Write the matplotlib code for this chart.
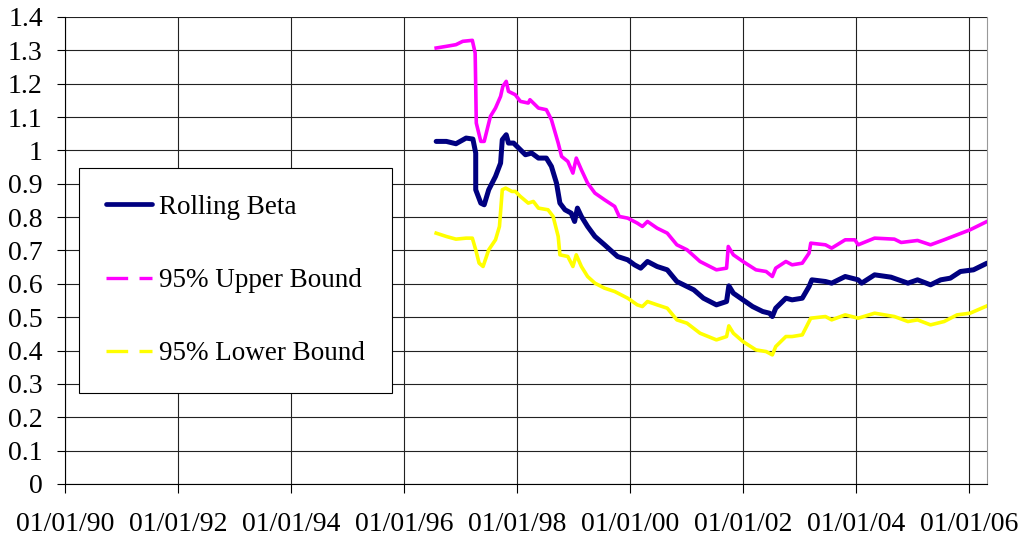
import numpy as np
import pandas as pd
import matplotlib
matplotlib.use('Agg')
import matplotlib.pyplot as plt
import matplotlib.dates as mdates
from matplotlib.lines import Line2D

# values (x in decimal years)
beta_t = [1996.57, 1996.75, 1996.92, 1997.10, 1997.22, 1997.27, 1997.27, 1997.36, 1997.42,
          1997.50, 1997.62, 1997.71, 1997.74, 1997.81, 1997.85, 1997.94, 1998.03, 1998.15,
          1998.26, 1998.38, 1998.52, 1998.61, 1998.70, 1998.76, 1998.85, 1998.96, 1999.02,
          1999.07, 1999.14, 1999.25, 1999.38, 1999.55, 1999.78, 1999.96, 2000.08, 2000.19,
          2000.31, 2000.48, 2000.66, 2000.83, 2000.95, 2001.13, 2001.30, 2001.53, 2001.71,
          2001.75, 2001.83, 2002.00, 2002.17, 2002.35, 2002.47, 2002.52, 2002.58, 2002.76,
          2002.87, 2003.05, 2003.17, 2003.22, 2003.46, 2003.57, 2003.81, 2004.04, 2004.10,
          2004.33, 2004.62, 2004.92, 2005.09, 2005.32, 2005.50, 2005.67, 2005.85, 2006.08,
          2006.32]
beta = [1.027, 1.027, 1.020, 1.037, 1.034, 0.992, 0.882, 0.842, 0.837,
        0.882, 0.922, 0.962, 1.032, 1.047, 1.022, 1.022, 1.007, 0.987,
        0.992, 0.977, 0.977, 0.952, 0.902, 0.842, 0.822, 0.812, 0.787,
        0.827, 0.802, 0.772, 0.742, 0.717, 0.682, 0.672, 0.657, 0.647,
        0.667, 0.652, 0.642, 0.607, 0.597, 0.582, 0.557, 0.537, 0.547,
        0.594, 0.572, 0.552, 0.532, 0.517, 0.512, 0.502, 0.527, 0.557,
        0.552, 0.557, 0.592, 0.612, 0.607, 0.602, 0.622, 0.612, 0.602,
        0.627, 0.620, 0.602, 0.612, 0.597, 0.612, 0.617, 0.637, 0.642,
        0.662]

upper_t = [1996.57, 1996.75, 1996.92, 1997.04, 1997.21, 1997.26, 1997.27, 1997.28, 1997.36,
           1997.42, 1997.53, 1997.62, 1997.71, 1997.75, 1997.81, 1997.85, 1997.97, 1998.06,
           1998.20, 1998.23, 1998.38, 1998.52, 1998.61, 1998.73, 1998.79, 1998.90, 1998.99,
           1999.05, 1999.14, 1999.25, 1999.38, 1999.55, 1999.73, 1999.81, 1999.96, 2000.13,
           2000.22, 2000.31, 2000.48, 2000.66, 2000.83, 2001.01, 2001.24, 2001.53, 2001.71,
           2001.74, 2001.83, 2002.00, 2002.23, 2002.41, 2002.52, 2002.58, 2002.76, 2002.87,
           2003.05, 2003.17, 2003.20, 2003.46, 2003.57, 2003.81, 2003.98, 2004.04, 2004.33,
           2004.68, 2004.80, 2005.09, 2005.32, 2005.56, 2005.79, 2006.02, 2006.32]
upper = [1.307, 1.312, 1.317, 1.327, 1.330, 1.292, 1.192, 1.082, 1.027,
         1.027, 1.102, 1.127, 1.162, 1.192, 1.207, 1.177, 1.167, 1.147,
         1.142, 1.152, 1.127, 1.122, 1.092, 1.022, 0.982, 0.967, 0.932,
         0.977, 0.942, 0.902, 0.872, 0.852, 0.832, 0.802, 0.797, 0.782,
         0.772, 0.787, 0.767, 0.752, 0.717, 0.702, 0.667, 0.642, 0.647,
         0.712, 0.687, 0.667, 0.642, 0.637, 0.622, 0.647, 0.667, 0.657,
         0.662, 0.692, 0.722, 0.717, 0.707, 0.732, 0.732, 0.717, 0.737,
         0.734, 0.724, 0.730, 0.717, 0.732, 0.747, 0.762, 0.787]

lower_t = [1996.57, 1996.75, 1996.92, 1997.10, 1997.21, 1997.27, 1997.33, 1997.40, 1997.50,
           1997.62, 1997.69, 1997.74, 1997.80, 1997.91, 1997.97, 1998.06, 1998.20, 1998.29,
           1998.38, 1998.55, 1998.64, 1998.73, 1998.76, 1998.90, 1998.99, 1999.05, 1999.14,
           1999.25, 1999.38, 1999.55, 1999.73, 1999.96, 2000.13, 2000.22, 2000.31, 2000.48,
           2000.66, 2000.83, 2001.01, 2001.24, 2001.53, 2001.71, 2001.75, 2001.83, 2002.00,
           2002.23, 2002.41, 2002.52, 2002.58, 2002.76, 2002.87, 2003.05, 2003.20, 2003.46,
           2003.57, 2003.81, 2004.04, 2004.33, 2004.68, 2004.92, 2005.09, 2005.32, 2005.56,
           2005.79, 2006.02, 2006.32]
lower = [0.752, 0.742, 0.734, 0.737, 0.737, 0.702, 0.662, 0.652, 0.702,
         0.732, 0.772, 0.882, 0.887, 0.877, 0.877, 0.862, 0.842, 0.847,
         0.827, 0.822, 0.802, 0.742, 0.687, 0.682, 0.652, 0.687, 0.652,
         0.622, 0.602, 0.587, 0.577, 0.557, 0.537, 0.532, 0.547, 0.537,
         0.527, 0.492, 0.482, 0.452, 0.432, 0.442, 0.474, 0.452, 0.427,
         0.402, 0.397, 0.387, 0.412, 0.442, 0.442, 0.447, 0.497, 0.502,
         0.492, 0.507, 0.497, 0.512, 0.502, 0.487, 0.492, 0.477, 0.487,
         0.507, 0.512, 0.534]

labels = ['Rolling Beta', '95% Upper Bound', '95% Lower Bound']


def to_dates(yrs):
    yrs = np.asarray(yrs, dtype=float)
    return pd.Timestamp('1990-01-01') + pd.to_timedelta((yrs - 1990) * 365.25, unit='D')


plt.rcParams['font.family'] = ['Liberation Serif', 'DejaVu Serif']
plt.rcParams['font.size'] = 20

fig = plt.figure(figsize=(10.33, 5.41), dpi=100)
ax = fig.add_axes([0.0629, 0.1054, 0.8926, 0.8632])

ax.plot(to_dates(beta_t), beta, color='#000080', lw=3.6, solid_joinstyle='round',
        solid_capstyle='round', zorder=3)
ax.plot(to_dates(upper_t), upper, color='#FF00FF', lw=2.6, solid_joinstyle='round', zorder=3)
ax.plot(to_dates(lower_t), lower, color='#FFFF00', lw=2.6, solid_joinstyle='round', zorder=3)

ax.set_xlim(pd.Timestamp('1990-01-01'), to_dates([2006.32])[0])
ax.set_ylim(0, 1.4)
ax.set_yticks(np.arange(0, 1.41, 0.1))
ax.set_yticklabels(['0'] + ['%g' % round(v, 1) for v in np.arange(0.1, 1.41, 0.1)])
ax.set_xticks([pd.Timestamp('%d-01-01' % y) for y in range(1990, 2007, 2)])
ax.xaxis.set_major_formatter(mdates.DateFormatter('%m/%d/%y'))

ax.grid(True, color='#222222', lw=0.8)
ax.set_axisbelow(True)
ax.tick_params(axis='x', direction='out', length=6.5, width=0.8, pad=14)
ax.tick_params(axis='y', direction='out', length=6, width=0.8, pad=10)
ax.spines['left'].set_color('black')
ax.spines['bottom'].set_color('black')
ax.spines['right'].set_color('#999999')
ax.spines['top'].set_visible(False)
for s in ax.spines.values():
    s.set_linewidth(0.8)

handles = [
    Line2D([], [], color='#000080', lw=3.4, solid_capstyle='round'),
    Line2D([], [], color='#FF00FF', lw=2.4, dashes=(6.5, 3.4)),
    Line2D([], [], color='#FFFF00', lw=2.4, dashes=(6.5, 3.4)),
]
leg = ax.legend(handles, labels, loc='upper left', bbox_to_anchor=(0.0152, 0.677),
                borderaxespad=0, frameon=True, fancybox=False, framealpha=1,
                edgecolor='black', fontsize=19.5, handlelength=1.7, handletextpad=0.25,
                labelspacing=1.78, borderpad=1.0)
leg.get_frame().set_linewidth(0.8)

fig.savefig('out.png', dpi=100)
